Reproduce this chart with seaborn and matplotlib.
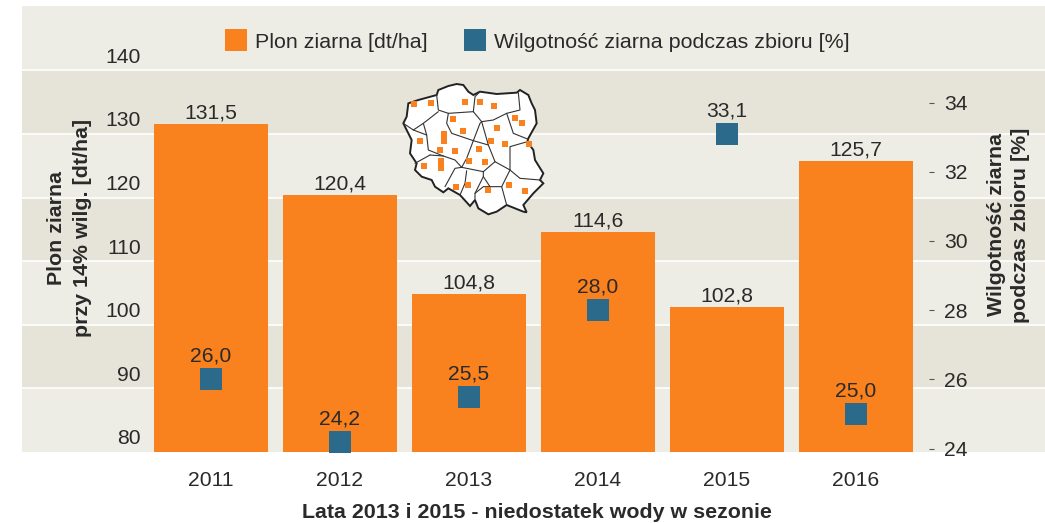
import matplotlib
matplotlib.use('Agg')
import matplotlib.pyplot as plt
import matplotlib.transforms as mtrans
from matplotlib.lines import Line2D
from matplotlib.patches import Polygon
import pandas as pd
import seaborn as sns

years = ['2011', '2012', '2013', '2014', '2015', '2016']
plon = [131.5, 120.4, 104.8, 114.6, 102.8, 125.7]
wilgotnosc = [26.0, 24.2, 25.5, 28.0, 33.1, 25.0]
left_ticks = [80, 90, 100, 110, 120, 130, 140]
right_ticks = [24, 26, 28, 30, 32, 34]

# mapka Polski, wspolrzedne w pikselach powiekszonego wycinka 540x450
poland = [(85, 70), (115, 60), (170, 45), (175, 30), (205, 18), (230, 12), (250, 15), (265, 35),
          (280, 45), (300, 35), (350, 42), (410, 38), (420, 30), (445, 45), (455, 70), (465, 90),
          (470, 130), (445, 175), (442, 185), (460, 210), (465, 240), (490, 280), (480, 300),
          (490, 310), (460, 340), (430, 375), (440, 397), (430, 395), (380, 375), (350, 395),
          (325, 403), (295, 385), (285, 360), (270, 378), (240, 345), (205, 325), (190, 337),
          (165, 320), (155, 300), (125, 290), (105, 270), (110, 250), (90, 220), (95, 180),
          (70, 130), (80, 110)]
borders = [
    [(170, 45), (175, 90), (205, 100), (280, 95), (285, 50), (300, 35)],
    [(280, 95), (305, 125), (340, 120), (380, 100), (420, 90), (415, 38)],
    [(380, 100), (400, 160), (445, 178)],
    [(205, 100), (200, 130), (215, 160), (280, 182), (300, 130), (305, 125)],
    [(70, 130), (100, 150), (130, 130), (175, 95)],
    [(100, 150), (140, 165), (145, 210), (190, 228), (225, 240), (245, 262), (260, 235), (280, 182)],
    [(130, 130), (140, 165)],
    [(150, 225), (105, 250)],
    [(150, 225), (190, 228)],
    [(245, 262), (225, 265), (195, 320)],
    [(245, 262), (310, 275), (345, 245), (325, 195), (280, 182)],
    [(325, 195), (305, 125)],
    [(345, 245), (390, 270), (390, 200), (442, 185)],
    [(390, 270), (420, 295), (480, 300)],
    [(260, 272), (255, 310), (240, 345)],
    [(310, 275), (310, 290), (330, 320), (365, 320), (390, 270)],
    [(310, 290), (285, 340), (285, 360)],
    [(285, 340), (310, 320), (330, 320)],
    [(365, 320), (380, 375)],
]
points = [(102, 71), (153, 68), (255, 65), (300, 65), (342, 78), (219, 116), (249, 152), (405, 113),
          (426, 128), (351, 143), (120, 182), (333, 182), (375, 191), (447, 191), (180, 209),
          (225, 212), (297, 206), (267, 242), (315, 245), (132, 257), (228, 320), (264, 314),
          (324, 329), (387, 314), (435, 332),
          (192, 162), (192, 173), (192, 184), (183, 243), (183, 254), (183, 265)]

orange = '#F9811E'
blue = '#2C6A8C'
text_color = '#2A2A2A'
W, H = 1045, 523

sns.set_style('white')
plt.rcParams['font.family'] = ['Liberation Sans', 'DejaVu Sans']
plt.rcParams['text.color'] = text_color
plt.rcParams['axes.labelcolor'] = text_color
plt.rcParams['xtick.color'] = text_color
plt.rcParams['ytick.color'] = text_color

df = pd.DataFrame({'rok': years, 'plon': plon, 'wilg': wilgotnosc})

fig = plt.figure(figsize=(W / 100, H / 100), dpi=100)
ax = fig.add_axes([22 / W, 1 - 452 / H, 1023 / W, 446 / H])

sns.barplot(data=df, x='rok', y='plon', color=orange, saturation=1, width=0.89, linewidth=0, ax=ax, zorder=3)
ax.set_xlim(-1.465, 6.465)
ax.set_ylim(80, 150.12)

# pasy tla
ax.set_facecolor('#EEEDE5')
for lo in [90, 110, 130]:
    ax.axhspan(lo, lo + 10, color='#E6E4D8', lw=0, zorder=0)
for t in left_ticks[1:]:
    ax.axhline(t, color='white', lw=1.2, zorder=1)

for s in ax.spines.values():
    s.set_visible(False)
ax.spines['left'].set_position(('axes', (141 - 22) / 1023))
ax.set_yticks(left_ticks)
ax.tick_params(axis='y', length=0, pad=0, labelsize=15.2)
lift = mtrans.ScaledTranslation(0, 15 / 100, fig.dpi_scale_trans)
for lab in ax.get_yticklabels():
    lab.set_transform(lab.get_transform() + lift)
ax.tick_params(axis='x', length=0, pad=14, labelsize=15.2)
ax.set_xlabel('')
ax.set_ylabel('')

for i, v in enumerate(plon):
    ax.annotate(f'{v:.1f}'.replace('.', ','), (i, v), xytext=(0, 11 * 0.72), textcoords='offset points',
                ha='center', va='center', fontsize=15.2, zorder=5)

# druga os
ax2 = ax.twinx()
ax2.set_zorder(ax.get_zorder() + 1)
ax2.patch.set_visible(False)
sns.scatterplot(data=df, x='rok', y='wilg', marker='s', color=blue, s=251, linewidth=0, ax=ax2,
                clip_on=False, zorder=4)
ax2.set_ylim(23.9, 23.9 + 446 / 34.6)
ax2.set_xlim(ax.get_xlim())
ax2.set_yticks(right_ticks)
for s in ax2.spines.values():
    s.set_visible(False)
ax2.spines['right'].set_position(('axes', (929 - 22) / 1023))
ax2.tick_params(axis='y', right=True, length=3.6, width=0.8, pad=7.2, labelsize=15.2, color='#555555')
ax2.set_xlabel('')
ax2.set_ylabel('')
for i, v in enumerate(wilgotnosc):
    ax2.annotate(f'{v:.1f}'.replace('.', ','), (i, v), xytext=(0, 23 * 0.72), textcoords='offset points',
                 ha='center', va='center', fontsize=15.2, zorder=6)

# legenda
handles = [Line2D([], [], marker='s', ls='', color=orange, markersize=15.84, markeredgewidth=0),
           Line2D([], [], marker='s', ls='', color=blue, markersize=15.84, markeredgewidth=0)]
fig.legend(handles, ['Plon ziarna [dt/ha]', 'Wilgotność ziarna podczas zbioru [%]'], ncol=2,
           loc='center', bbox_to_anchor=(532 / W, 1 - 42 / H), frameon=False, fontsize=15.4,
           handletextpad=-0.1, columnspacing=1.2)

# opisy osi
fig.text(57 / W, 1 - 228 / H, 'Plon ziarna', rotation=90, ha='center', va='center', fontsize=15.4, fontweight='bold')
fig.text(83 / W, 1 - 228 / H, 'przy 14% wilg. [dt/ha]', rotation=90, ha='center', va='center', fontsize=15.4, fontweight='bold')
fig.text(997 / W, 1 - 225 / H, 'Wilgotność ziarna', rotation=90, ha='center', va='center', fontsize=15.4, fontweight='bold')
fig.text(1020 / W, 1 - 225 / H, 'podczas zbioru [%]', rotation=90, ha='center', va='center', fontsize=15.4, fontweight='bold')
fig.text(537 / W, 1 - 513 / H, 'Lata 2013 i 2015 - niedostatek wody w sezonie', ha='center', va='center',
         fontsize=15.4, fontweight='bold')

# mapka
inset = fig.add_axes([380 / W, 1 - 230 / H, 180 / W, 150 / H], zorder=10)
inset.set_xlim(0, 540)
inset.set_ylim(450, 0)
inset.axis('off')
inset.add_patch(Polygon(poland, closed=True, facecolor='white', edgecolor='#222222', lw=1.4))
for b in borders:
    inset.plot([p[0] for p in b], [p[1] for p in b], color='#333333', lw=0.8)
inset.plot([p[0] for p in points], [p[1] for p in points], ls='', marker='s', color=orange, ms=4.3, mew=0)

fig.savefig('out.png', dpi=100)
